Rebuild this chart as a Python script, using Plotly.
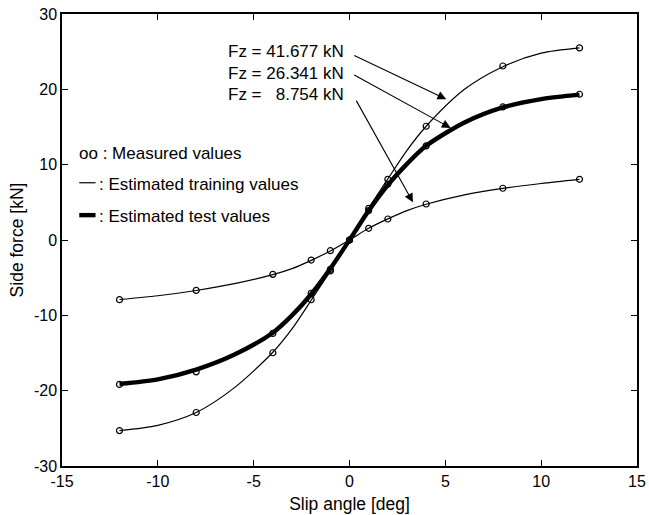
import plotly.graph_objects as go

# Slip angle values where measurements were taken
slip = [-12, -8, -4, -2, -1, 0, 1, 2, 4, 8, 12]

# Measured side force [kN]
meas_41677 = [-25.3, -22.9, -14.97, -7.93, -4.1, 0.0, 4.2, 8.06, 15.1, 23.1, 25.5]
meas_26341 = [-19.17, -17.5, -12.4, -7.08, -3.9, 0.0, 3.9, 7.4, 12.5, 17.66, 19.35]
meas_8754 = [-7.92, -6.69, -4.56, -2.66, -1.42, 0.0, 1.55, 2.79, 4.78, 6.87, 8.06]

# Estimated (model) values
est_x = [-12, -10, -8, -6, -4, -3, -2, -1, 0, 1, 2, 3, 4, 6, 8, 10, 12]
est_41677 = [-25.3, -24.6, -22.9, -19.6, -14.9, -11.8, -8.0, -4.1, 0.0, 4.2, 8.1, 11.9, 15.1, 20.0, 23.0, 24.8, 25.5]
est_26341 = [-19.1, -18.5, -17.2, -15.2, -12.3, -10.0, -7.2, -3.8, 0.0, 3.9, 7.3, 10.1, 12.5, 15.6, 17.6, 18.7, 19.3]
est_8754 = [-7.9, -7.4, -6.7, -5.8, -4.6, -3.8, -2.7, -1.45, 0.0, 1.55, 2.8, 3.9, 4.75, 6.0, 6.85, 7.5, 8.05]

x_ticks = [-15, -10, -5, 0, 5, 10, 15]
x_ticktext = ["-15", "-10", "-5", "0", "5", "10", "15"]
y_ticks = [-30, -20, -10, 0, 10, 20, 30]
y_ticktext = ["-30", "-20", "-10", "0", "10", "20", "30"]

fz_labels = ["Fz = 41.677 kN", "Fz = 26.341 kN", "Fz = \u00a0\u00a08.754 kN"]

FONT = "Liberation Sans, Arial, sans-serif"
TXT = dict(size=17, family=FONT, color="black")
TITLE = dict(size=17.5, family=FONT, color="black")

fig = go.Figure()

for y, w in [(est_41677, 1.2), (est_8754, 1.2), (est_26341, 4.4)]:
    fig.add_trace(go.Scatter(x=est_x, y=y, mode="lines",
                             line=dict(color="black", width=w, shape="spline", smoothing=0.8),
                             showlegend=False, hoverinfo="skip"))

for y in [meas_41677, meas_26341, meas_8754]:
    fig.add_trace(go.Scatter(x=slip, y=y, mode="markers",
                             marker=dict(symbol="circle-open", size=6, color="black",
                                         line=dict(width=1.2, color="black")),
                             showlegend=False))

annos = []
label_y = [25.0, 22.05, 19.26]
tails = [(0.17, 24.6), (0.17, 22.0), (0.31, 18.7)]
heads = [(5.05, 18.7), (5.28, 14.87), (3.31, 5.0)]
for txt, ly in zip(fz_labels, label_y):
    annos.append(dict(x=-0.17, y=ly, xref="x", yref="y", text=txt, showarrow=False,
                      xanchor="right", yanchor="middle", font=TXT))
for (tx, ty), (hx, hy) in zip(tails, heads):
    annos.append(dict(x=hx, y=hy, ax=tx, ay=ty, xref="x", yref="y", axref="x", ayref="y",
                      text="", showarrow=True, arrowhead=2, arrowsize=1.6, arrowwidth=1.1,
                      arrowcolor="black"))

annos.append(dict(x=-14.2, y=11.5, xref="x", yref="y", text="oo : Measured values", showarrow=False,
                  xanchor="left", yanchor="middle", font=TXT))
annos.append(dict(x=-13.15, y=7.4, xref="x", yref="y", text=": Estimated training values", showarrow=False,
                  xanchor="left", yanchor="middle", font=TXT))
annos.append(dict(x=-13.15, y=3.1, xref="x", yref="y", text=": Estimated test values", showarrow=False,
                  xanchor="left", yanchor="middle", font=TXT))

shapes = [
    dict(type="line", xref="x", yref="y", x0=-14.1, x1=-13.25, y0=7.6, y1=7.6,
         line=dict(color="black", width=1.2)),
    dict(type="line", xref="x", yref="y", x0=-14.1, x1=-13.25, y0=3.3, y1=3.3,
         line=dict(color="black", width=4.4)),
]

axis_common = dict(showline=True, linecolor="black", linewidth=1.5, mirror="ticks", ticks="inside",
                   ticklen=6, tickwidth=1, tickcolor="black", showgrid=False, zeroline=False,
                   automargin=False, tickfont=dict(size=16, family=FONT, color="black"))

fig.update_layout(
    width=649, height=515,
    margin=dict(l=62, r=12, t=14, b=49),
    paper_bgcolor="white", plot_bgcolor="white",
    annotations=annos, shapes=shapes,
    xaxis=dict(range=[-15, 15], tickvals=x_ticks, ticktext=x_ticktext,
               title=dict(text="Slip angle [deg]", font=TITLE, standoff=9),
               **axis_common),
    yaxis=dict(range=[-30, 30], tickvals=y_ticks, ticktext=y_ticktext,
               title=dict(text="Side force [kN]", font=TITLE, standoff=6),
               **axis_common),
)

fig.write_html("out.html")
